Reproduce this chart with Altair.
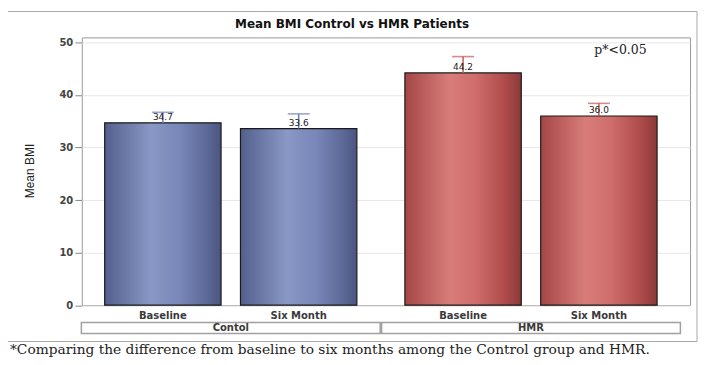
import altair as alt
import pandas as pd

# ---- data ----
group_names = ["Contol", "HMR"]
time_names = ["Baseline", "Six Month"]
groups = ["Contol", "Contol", "HMR", "HMR"]
times = ["Baseline", "Six Month", "Baseline", "Six Month"]
means = [34.7, 33.6, 44.2, 36.0]
uppers = [36.7, 36.4, 47.3, 38.4]
y_ticks = [0, 10, 20, 30, 40, 50]

title_text = "Mean BMI Control vs HMR Patients"
y_title = "Mean BMI"
note_text = "p*<0.05"
footnote = "*Comparing the difference from baseline to six months among the Control group and HMR."

df = pd.DataFrame({"group": groups, "time": times, "mean": means, "upper": uppers})
grp_df = pd.DataFrame({"group": group_names})
one = pd.DataFrame({"a": [0]})

W, H = 610, 268.5

xscale = alt.Scale(domain=group_names, paddingInner=0.16, paddingOuter=0.093, align=0.41)
xoff = alt.XOffset("time:N", scale=alt.Scale(domain=time_names, paddingInner=0.143, paddingOuter=0))
X = alt.X("group:N", scale=xscale, axis=None)
Y = alt.Y("mean:Q", scale=alt.Scale(domain=[0, 50.95], nice=False),
          axis=alt.Axis(values=y_ticks, title=None, grid=True, gridColor="#e6e6e6",
                        domain=False, tickSize=7, tickColor="#888888", labelPadding=2,
                        labelFont="DejaVu Sans", labelFontSize=10, labelFontWeight="bold",
                        labelColor="#444444"))

base = alt.Chart(df)

blue_grad = alt.Gradient(gradient="linear", x1=0, x2=1, y1=0, y2=0, stops=[
    alt.GradientStop(color="#535f8d", offset=0),
    alt.GradientStop(color="#8a98c6", offset=0.4),
    alt.GradientStop(color="#7886b8", offset=0.65),
    alt.GradientStop(color="#5c6896", offset=0.88),
    alt.GradientStop(color="#4a5580", offset=1)])
red_grad = alt.Gradient(gradient="linear", x1=0, x2=1, y1=0, y2=0, stops=[
    alt.GradientStop(color="#a44646", offset=0),
    alt.GradientStop(color="#d87c7a", offset=0.38),
    alt.GradientStop(color="#cf6e6d", offset=0.6),
    alt.GradientStop(color="#b04c4c", offset=0.85),
    alt.GradientStop(color="#8c3939", offset=1)])

bars_c = base.transform_filter(alt.datum.group == "Contol").mark_bar(
    color=blue_grad, stroke="#1a1a1a", strokeWidth=1.2).encode(x=X, xOffset=xoff, y=Y)
bars_h = base.transform_filter(alt.datum.group == "HMR").mark_bar(
    color=red_grad, stroke="#1a1a1a", strokeWidth=1.2).encode(x=X, xOffset=xoff, y=Y)

err_color = alt.Color("group:N", scale=alt.Scale(domain=group_names, range=["#6f80b8", "#c25b5a"]), legend=None)
stems = base.mark_rule(strokeWidth=1.5).encode(x=X, xOffset=xoff, y=Y, y2="upper:Q", color=err_color)
caps = base.mark_tick(size=22, thickness=1.6).encode(x=X, xOffset=xoff, y=alt.Y("upper:Q"), color=err_color)

vals = base.mark_text(baseline="bottom", dy=-1, fontSize=9, font="DejaVu Sans", color="#222222").encode(
    x=X, xOffset=xoff, y=Y, text=alt.Text("mean:Q", format=".1f"))

xlabels = base.mark_text(fontSize=10, font="DejaVu Sans", fontWeight="bold", color="#3a3a3a",
                         baseline="middle").encode(
    x=X, xOffset=xoff, y=alt.value(279), text="time:N")

boxes = alt.Chart(grp_df).mark_bar(width=alt.RelativeBandSize(band=1.185), fill="white",
                                   stroke="#a0a0a0", strokeWidth=1.5).encode(
    x=X, y=alt.value(286), y2=alt.value(297))
glabels = alt.Chart(grp_df).mark_text(fontSize=10, font="DejaVu Sans", fontWeight="bold",
                                      color="#3a3a3a", baseline="middle").encode(
    x=X, y=alt.value(291.5), text="group:N")

frame = alt.Chart(one).mark_rect(fill=None, stroke="#a8a8a8", strokeWidth=1).encode(
    x=alt.value(-75), x2=alt.value(617), y=alt.value(-26), y2=alt.value(305))

title = alt.Chart(one).mark_text(text=title_text, font="DejaVu Sans", fontSize=12,
                                 fontWeight="bold", color="#111111", baseline="middle").encode(
    x=alt.value(271), y=alt.value(-13))
ytitle = alt.Chart(one).mark_text(text=y_title, font="Liberation Sans Narrow, Liberation Sans",
                                  fontSize=12, angle=270, color="#222222", baseline="middle").encode(
    x=alt.value(-52), y=alt.value(134))
pnote = alt.Chart(one).mark_text(text=note_text, font="DejaVu Serif", fontSize=12.5, align="left",
                                 baseline="middle", color="#222222").encode(
    x=alt.value(514), y=alt.value(13))
foot = alt.Chart(one).mark_text(text=footnote, font="DejaVu Serif", fontSize=13.8, align="left",
                                baseline="middle", color="#222222").encode(
    x=alt.value(-72), y=alt.value(313))

chart = alt.layer(frame, bars_c, bars_h, stems, caps, vals, xlabels, boxes, glabels,
                  title, ytitle, pnote, foot).properties(
    width=W, height=H,
    autosize=alt.AutoSizeParams(type="none"),
    padding={"left": 74, "top": 29, "right": 8, "bottom": 52},
    background="white",
).configure_view(stroke="#9a9a9a", strokeWidth=1)

chart.save("out.html", embed_options={"renderer": "svg", "actions": False})
